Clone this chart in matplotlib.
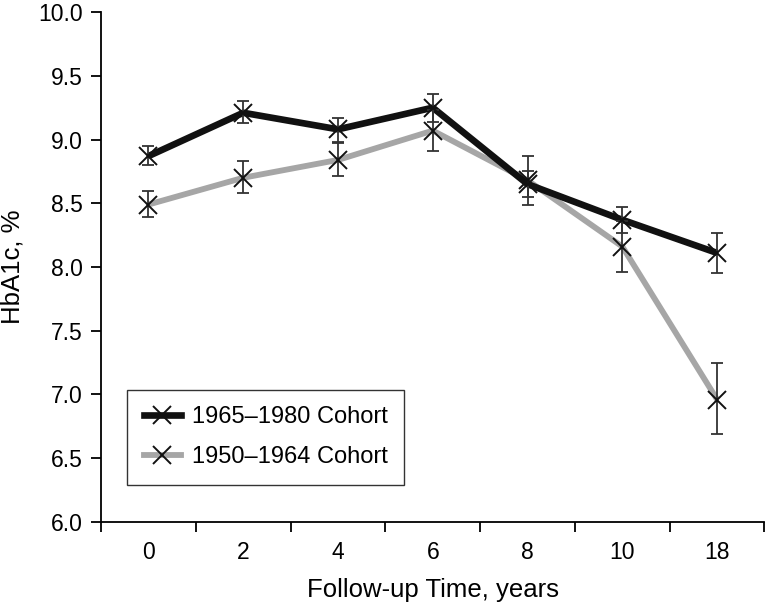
import numpy as np
import matplotlib.pyplot as plt
from matplotlib.lines import Line2D

plt.rcParams['font.family'] = ['Liberation Sans', 'DejaVu Sans']

years = ['0', '2', '4', '6', '8', '10', '18']
young = [8.87, 9.21, 9.08, 9.25, 8.65, 8.37, 8.11]
young_lo = [8.80, 9.13, 8.98, 9.14, 8.55, 8.27, 7.95]
young_hi = [8.95, 9.30, 9.17, 9.36, 8.75, 8.47, 8.27]
old = [8.49, 8.70, 8.84, 9.07, 8.68, 8.16, 6.96]
old_lo = [8.39, 8.58, 8.71, 8.91, 8.49, 7.96, 6.69]
old_hi = [8.60, 8.83, 8.97, 9.23, 8.87, 8.36, 7.25]

x = np.arange(len(years))

fig = plt.figure(figsize=(7.66, 6.04), dpi=100)
ax = fig.add_axes([0.132, 0.136, 0.866, 0.844])

def draw(vals, lo, hi, col, lw):
    vals = np.array(vals)
    err = [vals - np.array(lo), np.array(hi) - vals]
    ax.plot(x, vals, color=col, lw=lw, solid_capstyle='butt', zorder=2)
    ax.errorbar(x, vals, yerr=err, fmt='none', ecolor='#333333',
                elinewidth=1.3, capsize=4, capthick=1.3, zorder=3)
    ax.plot(x, vals, 'x', color='#111111', ms=13, mew=1.4, zorder=4)

draw(old, old_lo, old_hi, '#a6a6a6', 4.2)
draw(young, young_lo, young_hi, '#111111', 4.8)

ax.set_xlim(-0.5, 6.5)
ax.set_ylim(6.0, 10.0)
ax.set_yticks(np.arange(6.0, 10.01, 0.5))
ax.set_yticklabels([f'{v:.1f}' for v in np.arange(6.0, 10.01, 0.5)])
ax.set_xticks(x)
ax.set_xticklabels(years)
ax.set_xticks(np.arange(-0.5, 6.6, 1), minor=True)
ax.tick_params(axis='x', which='major', length=0, pad=14, labelsize=16.5)
ax.tick_params(axis='x', which='minor', length=7, width=1.3, direction='out')
ax.tick_params(axis='y', length=7, width=1.3, direction='out', pad=6, labelsize=16.5)
for s in ['top', 'right']:
    ax.spines[s].set_visible(False)
for s in ['left', 'bottom']:
    ax.spines[s].set_linewidth(1.3)

ax.set_xlabel('Follow-up Time, years', fontsize=18.5, labelpad=10)
ax.set_ylabel('HbA1c, %', fontsize=18.5, labelpad=10)

handles = [
    Line2D([], [], color='#111111', lw=4.8, marker='x', ms=13, mew=1.4, mec='#111111'),
    Line2D([], [], color='#a6a6a6', lw=4.2, marker='x', ms=13, mew=1.4, mec='#111111'),
]
leg = ax.legend(handles, ['1965\u20131980 Cohort', '1950\u20131964 Cohort'],
                loc='lower left', bbox_to_anchor=(0.039, 0.073), borderaxespad=0,
                fontsize=17, frameon=True, fancybox=False, edgecolor='black',
                handlelength=1.6, handletextpad=0.45, borderpad=0.7, labelspacing=0.75)
leg.get_frame().set_linewidth(1.0)

fig.savefig('out.png', dpi=100)
